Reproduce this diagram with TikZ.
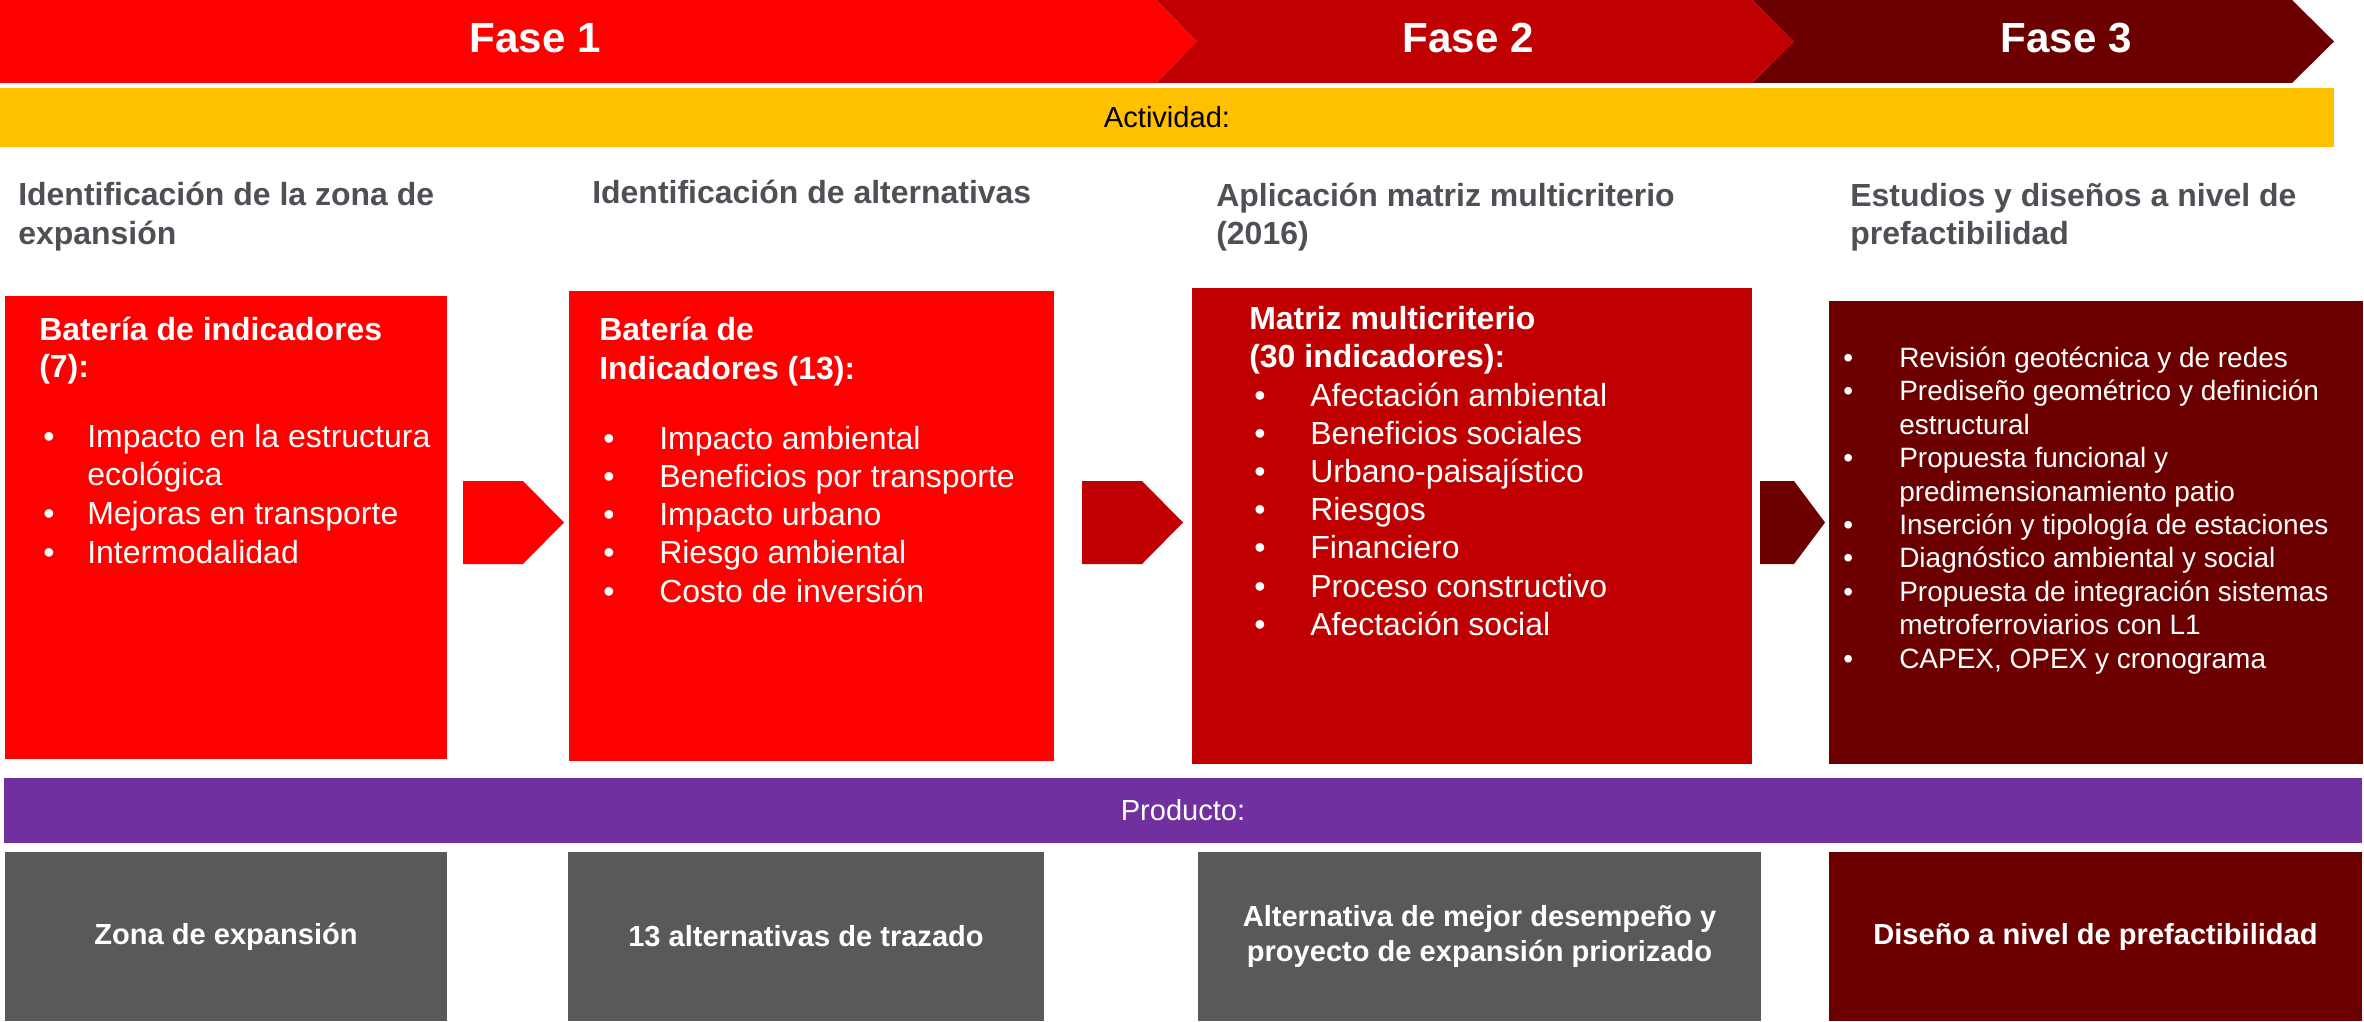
\documentclass[tikz,border=0pt]{standalone}
\usepackage{fontspec}
\setmainfont{Liberation Sans}
\definecolor{fone}{HTML}{FF0000}
\definecolor{ftwo}{HTML}{C00000}
\definecolor{fthree}{HTML}{6C0000}
\definecolor{ambar}{HTML}{FFC000}
\definecolor{morado}{HTML}{7030A0}
\definecolor{grisbox}{HTML}{595959}
\definecolor{gristxt}{HTML}{4F4F55}
\def\pxl{0.01in}
\begin{document}
\begin{tikzpicture}[x=0.01in, y=-0.01in,
  panel/.style={rectangle, inner sep=0pt, outer sep=0pt, draw=none},
  fasetxt/.style={text=white, font=\fontsize{30.4}{36}\selectfont\bfseries, anchor=base, inner sep=0pt},
  bartxt/.style={font=\fontsize{21}{25}\selectfont},
  heading/.style={text=gristxt, font=\fontsize{23.1}{27}\selectfont\bfseries, anchor=base west, inner sep=0pt},
  btitle/.style={text=white, font=\fontsize{23.1}{27}\selectfont\bfseries, anchor=base west, inner sep=0pt},
  item/.style={text=white, font=\fontsize{23.1}{27}\selectfont, anchor=base west, inner sep=0pt},
  itemsm/.style={text=white, font=\fontsize{20.2}{24}\selectfont, anchor=base west, inner sep=0pt},
  prod/.style={panel, text=white, font=\fontsize{21}{24.6}\selectfont\bfseries, align=center},
]
\useasboundingbox (0,0) rectangle (2364,1022);

% ---- phase banner ----
\fill[fthree] (1752,0) -- (2292,0) -- (2334,41.5) -- (2292,83) -- (1752,83) -- (1794,41.5) -- cycle;
\fill[ftwo] (1156,0) -- (1752,0) -- (1794,41.5) -- (1752,83) -- (1156,83) -- (1197,41.5) -- cycle;
\fill[fone] (0,0) -- (1156,0) -- (1197,41.5) -- (1156,83) -- (0,83) -- cycle;
\node[fasetxt] (f1) at (535,53) {Fase 1};
\node[fasetxt] (f2) at (1468,53) {Fase 2};
\node[fasetxt] (f3) at (2066,53) {Fase 3};

% ---- activity bar ----
\node[panel, fill=ambar, minimum width={2334*\pxl}, minimum height={59*\pxl}, bartxt, text=black] (act) at (1167,117.5) {Actividad:};

% ---- headings ----
\node[heading] (h1a) at (18,206) {Identificación de la zona de};
\node[heading] (h1b) at (18,244) {expansión};
\node[heading] (h2) at (592,204) {Identificación de alternativas};
\node[heading] (h3a) at (1216,207) {Aplicación matriz multicriterio};
\node[heading] (h3b) at (1216,244) {(2016)};
\node[heading] (h4a) at (1850,207) {Estudios y diseños a nivel de};
\node[heading] (h4b) at (1850,244) {prefactibilidad};

% ---- activity panels ----
\node[panel, fill=fone, minimum width={442*\pxl}, minimum height={463*\pxl}] (box1) at (226,527.5) {};
\node[panel, fill=fone, minimum width={485*\pxl}, minimum height={470*\pxl}] (box2) at (811.5,526) {};
\node[panel, fill=ftwo, minimum width={560*\pxl}, minimum height={476*\pxl}] (box3) at (1472,526) {};
\node[panel, fill=fthree, minimum width={534*\pxl}, minimum height={463*\pxl}] (box4) at (2096,532.5) {};

% ---- block arrows ----
\fill[fone] (463,481) -- (523,481) -- (564,522.5) -- (523,564) -- (463,564) -- cycle;
\fill[ftwo] (1082,481) -- (1142,481) -- (1183,522.5) -- (1142,564) -- (1082,564) -- cycle;
\fill[fthree] (1760,481) -- (1794,481) -- (1825,522.5) -- (1794,564) -- (1760,564) -- cycle;

% ---- box 1 ----
\node[btitle] (t1a) at (39,340) {Batería de indicadores};
\node[btitle] (t1b) at (39,377) {(7):};
\foreach \b/\t [count=\i] in {1/Impacto en la estructura, 0/ecológica, 1/Mejoras en transporte, 1/Intermodalidad}{
  \node[item] (i1-\i) at (87,{447+38.7*(\i-1)}) {\t};
  \ifnum\b=1 \node[item] (d1-\i) at (43,{447+38.7*(\i-1)}) {•};\fi
}

% ---- box 2 ----
\node[btitle] (t2a) at (599,340) {Batería de};
\node[btitle] (t2b) at (599,379) {Indicadores (13):};
\foreach \t [count=\i] in {Impacto ambiental, Beneficios por transporte, Impacto urbano, Riesgo ambiental, Costo de inversión}{
  \node[item] (i2-\i) at (659,{449+38.25*(\i-1)}) {\t};
  \node[item] (d2-\i) at (603,{449+38.25*(\i-1)}) {•};
}

% ---- box 3 ----
\node[btitle] (t3a) at (1249,329) {Matriz multicriterio};
\node[btitle] (t3b) at (1249,367.5) {(30 indicadores):};
\foreach \t [count=\i] in {Afectación ambiental, Beneficios sociales, Urbano-paisajístico, Riesgos, Financiero, Proceso constructivo, Afectación social}{
  \node[item] (i3-\i) at (1310,{406+38.2*(\i-1)}) {\t};
  \node[item] (d3-\i) at (1254,{406+38.2*(\i-1)}) {•};
}

% ---- box 4 ----
\foreach \b/\t [count=\i] in {1/Revisión geotécnica y de redes, 1/Prediseño geométrico y definición, 0/estructural, 1/Propuesta funcional y, 0/predimensionamiento patio, 1/Inserción y tipología de estaciones, 1/Diagnóstico ambiental y social, 1/Propuesta de integración sistemas, 0/metroferroviarios con L1, 1/{CAPEX, OPEX y cronograma}}{
  \node[itemsm] (i4-\i) at (1899,{367.5+33.4*(\i-1)}) {\t};
  \ifnum\b=1 \node[itemsm] (d4-\i) at (1843,{367.5+33.4*(\i-1)}) {•};\fi
}

% ---- product bar ----
\node[panel, fill=morado, minimum width={2358*\pxl}, minimum height={65*\pxl}, bartxt, text=white] (prodbar) at (1183,810.5) {Producto:};

% ---- product boxes ----
\node[prod, fill=grisbox, minimum width={442*\pxl}, minimum height={169*\pxl}] (p1) at (226,936.5) {Zona de expansión};
\node[prod, fill=grisbox, minimum width={476*\pxl}, minimum height={169*\pxl}] (p2) at (806,936.5) {13 alternativas de trazado};
\node[prod, fill=grisbox, minimum width={563*\pxl}, minimum height={169*\pxl}] (p3) at (1479.5,936.5) {Alternativa de mejor desempeño y\\proyecto de expansión priorizado};
\node[prod, fill=fthree, minimum width={533*\pxl}, minimum height={169*\pxl}] (p4) at (2095.5,936.5) {Diseño a nivel de prefactibilidad};
\end{tikzpicture}
\end{document}
